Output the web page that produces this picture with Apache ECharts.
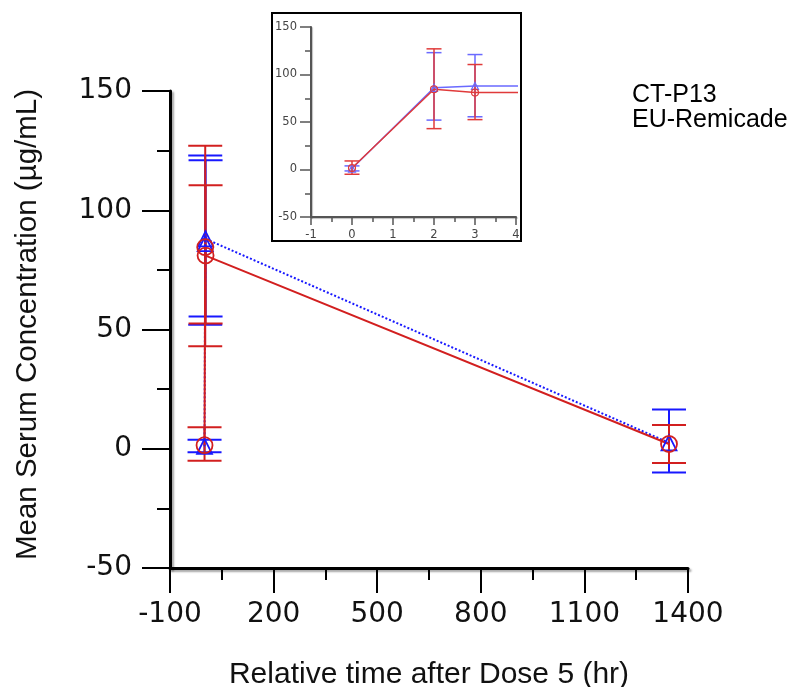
<!DOCTYPE html>
<html>
<head>
<meta charset="utf-8">
<script src="https://cdn.jsdelivr.net/npm/echarts@6/dist/echarts.min.js"></script>
<style>html,body{margin:0;padding:0;background:#fff;}#c{width:797px;height:687px;}</style>
</head>
<body>
<div id="c"></div>
<script>
// ---- data ----
const seriesNames = ['CT-P13', 'EU-Remicade'];
const timeHr = [0, 2, 3, 1345];
const ctMean = [1, 86, 88, 2.5];
const ctUpper = [3.8, 123, 121, 16.5];
const ctLower = [-1.5, 52, 55.5, -10];
const euMean = [1.5, 84.5, 81, 2];
const euUpper = [9, 127, 110.5, 10];
const euLower = [-5, 43, 52.5, -6];

const BLUE = '#1818ff', RED = '#d21f1f';
const BLUE_IN = '#6a6aff', RED_IN = '#e03a3a';

const pts = (m) => timeHr.map((t, i) => [t, m[i]]);
const errs = (lo, hi) => timeHr.map((t, i) => [t, lo[i], hi[i]]);
const plain = (v) => String(v);

function errRender(capW, lw, color) {
  return function (params, api) {
    const x = api.value(0), lo = api.value(1), hi = api.value(2);
    const a = api.coord([x, hi]), b = api.coord([x, lo]);
    const h = capW / 2;
    const st = { stroke: color, lineWidth: lw };
    return {
      type: 'group',
      children: [
        { type: 'line', shape: { x1: a[0], y1: a[1], x2: b[0], y2: b[1] }, style: st },
        { type: 'line', shape: { x1: a[0] - h, y1: a[1], x2: a[0] + h, y2: a[1] }, style: st },
        { type: 'line', shape: { x1: b[0] - h, y1: b[1], x2: b[0] + h, y2: b[1] }, style: st }
      ]
    };
  };
}

const mainTickFont = { fontFamily: 'DejaVu Sans', fontSize: 28, color: '#111', formatter: plain };
const inTickFont = { fontFamily: 'DejaVu Sans', fontSize: 11.5, color: '#444', formatter: plain };
const mainAxisLine = { show: true, onZero: false, lineStyle: { color: '#000', width: 3, shadowColor: 'rgba(0,0,0,0.35)', shadowBlur: 2, shadowOffsetX: 2, shadowOffsetY: 2 } };
const inAxisLine = { show: true, onZero: false, lineStyle: { color: '#555', width: 2, shadowColor: 'rgba(0,0,0,0.25)', shadowBlur: 1, shadowOffsetX: 1, shadowOffsetY: 1 } };

const option = {
  animation: false,
  backgroundColor: '#fff',
  legend: {
    data: seriesNames,
    orient: 'vertical',
    left: 627, top: 83,
    padding: 0,
    icon: 'none',
    itemWidth: 0, itemHeight: 1, itemGap: 0,
    selectedMode: false,
    textStyle: { fontFamily: 'Liberation Sans', fontSize: 25, color: '#000', lineHeight: 22 }
  },
  graphic: [{
    type: 'rect', z: 0,
    shape: { x: 272, y: 13, width: 249, height: 228 },
    style: { fill: '#fff', stroke: '#000', lineWidth: 2 }
  }],
  grid: [
    { left: 170, right: 109, top: 91, bottom: 119, outerBoundsMode: 'none', containLabel: false },
    { left: 311, right: 281, top: 27, bottom: 470, outerBoundsMode: 'none', containLabel: false }
  ],
  xAxis: [{
    type: 'value', gridIndex: 0, min: -100, max: 1400, interval: 300,
    name: 'Relative time after Dose 5 (hr)', nameLocation: 'middle', nameGap: 92,
    nameTextStyle: { fontFamily: 'Liberation Sans', fontSize: 30, color: '#111' },
    axisLine: mainAxisLine,
    axisTick: { show: true, length: 25, lineStyle: { color: '#000', width: 2 } },
    minorTick: { show: true, splitNumber: 2, length: 12, lineStyle: { color: '#000', width: 2 } },
    axisLabel: Object.assign({ margin: 33, showMinLabel: true, showMaxLabel: true }, mainTickFont),
    splitLine: { show: false }
  }, {
    type: 'value', gridIndex: 1, min: -1, max: 4, interval: 1,
    axisLine: inAxisLine,
    axisTick: { show: true, length: 8, lineStyle: { color: '#555', width: 1.5 } },
    minorTick: { show: true, splitNumber: 2, length: 5, lineStyle: { color: '#555', width: 1.5 } },
    axisLabel: Object.assign({ margin: 12 }, inTickFont),
    splitLine: { show: false }
  }],
  yAxis: [{
    type: 'value', gridIndex: 0, min: -50, max: 150, interval: 50,
    name: 'Mean Serum Concentration (µg/mL)', nameLocation: 'middle', nameGap: 127,
    nameTextStyle: { fontFamily: 'Liberation Sans', fontSize: 29.5, color: '#111', padding: [0, 0, 0, 10] },
    axisLine: mainAxisLine,
    axisTick: { show: true, length: 28, lineStyle: { color: '#000', width: 2 } },
    minorTick: { show: true, splitNumber: 2, length: 13, lineStyle: { color: '#000', width: 2 } },
    axisLabel: Object.assign({ margin: 38 }, mainTickFont),
    splitLine: { show: false }
  }, {
    type: 'value', gridIndex: 1, min: -50, max: 150, interval: 50,
    axisLine: inAxisLine,
    axisTick: { show: true, length: 11, lineStyle: { color: '#555', width: 1.5 } },
    minorTick: { show: true, splitNumber: 2, length: 6, lineStyle: { color: '#555', width: 1.5 } },
    axisLabel: Object.assign({ margin: 14 }, inTickFont),
    splitLine: { show: false }
  }],
  series: [
    // main error bars
    { name: seriesNames[0], type: 'custom', xAxisIndex: 0, yAxisIndex: 0, z: 2,
      data: errs(ctLower, ctUpper), encode: { x: 0, y: [1, 2] }, renderItem: errRender(34, 2, BLUE) },
    { name: seriesNames[1], type: 'custom', xAxisIndex: 0, yAxisIndex: 0, z: 2,
      data: errs(euLower, euUpper), encode: { x: 0, y: [1, 2] }, renderItem: errRender(34, 2, RED) },
    // main lines
    { name: seriesNames[0], type: 'line', xAxisIndex: 0, yAxisIndex: 0, z: 3,
      data: pts(ctMean), symbol: 'triangle', symbolSize: 15,
      itemStyle: { color: 'rgba(0,0,0,0)', borderColor: BLUE, borderWidth: 1.8 },
      lineStyle: { color: BLUE, width: 2, type: 'dotted' } },
    { name: seriesNames[1], type: 'line', xAxisIndex: 0, yAxisIndex: 0, z: 3,
      data: pts(euMean), symbol: 'circle', symbolSize: 16,
      itemStyle: { color: 'rgba(0,0,0,0)', borderColor: RED, borderWidth: 1.8 },
      lineStyle: { color: RED, width: 2 } },
    // inset error bars
    { name: seriesNames[0], type: 'custom', xAxisIndex: 1, yAxisIndex: 1, z: 4, clip: true,
      data: errs(ctLower, ctUpper), encode: { x: 0, y: [1, 2] }, renderItem: errRender(15, 1.5, BLUE_IN) },
    { name: seriesNames[1], type: 'custom', xAxisIndex: 1, yAxisIndex: 1, z: 4, clip: true,
      data: errs(euLower, euUpper), encode: { x: 0, y: [1, 2] }, renderItem: errRender(15, 1.5, RED_IN) },
    // inset lines
    { name: seriesNames[0], type: 'line', xAxisIndex: 1, yAxisIndex: 1, z: 5, clip: true,
      data: pts(ctMean), symbol: 'triangle', symbolSize: 7,
      itemStyle: { color: 'rgba(0,0,0,0)', borderColor: BLUE_IN, borderWidth: 1.2 },
      lineStyle: { color: BLUE_IN, width: 1.5 } },
    { name: seriesNames[1], type: 'line', xAxisIndex: 1, yAxisIndex: 1, z: 5, clip: true,
      data: pts(euMean), symbol: 'circle', symbolSize: 7,
      itemStyle: { color: 'rgba(0,0,0,0)', borderColor: RED_IN, borderWidth: 1.2 },
      lineStyle: { color: RED_IN, width: 1.5 } }
  ]
};

const chart = echarts.init(document.getElementById('c'), null, { renderer: 'canvas' });
chart.setOption(option);
</script>
</body>
</html>
